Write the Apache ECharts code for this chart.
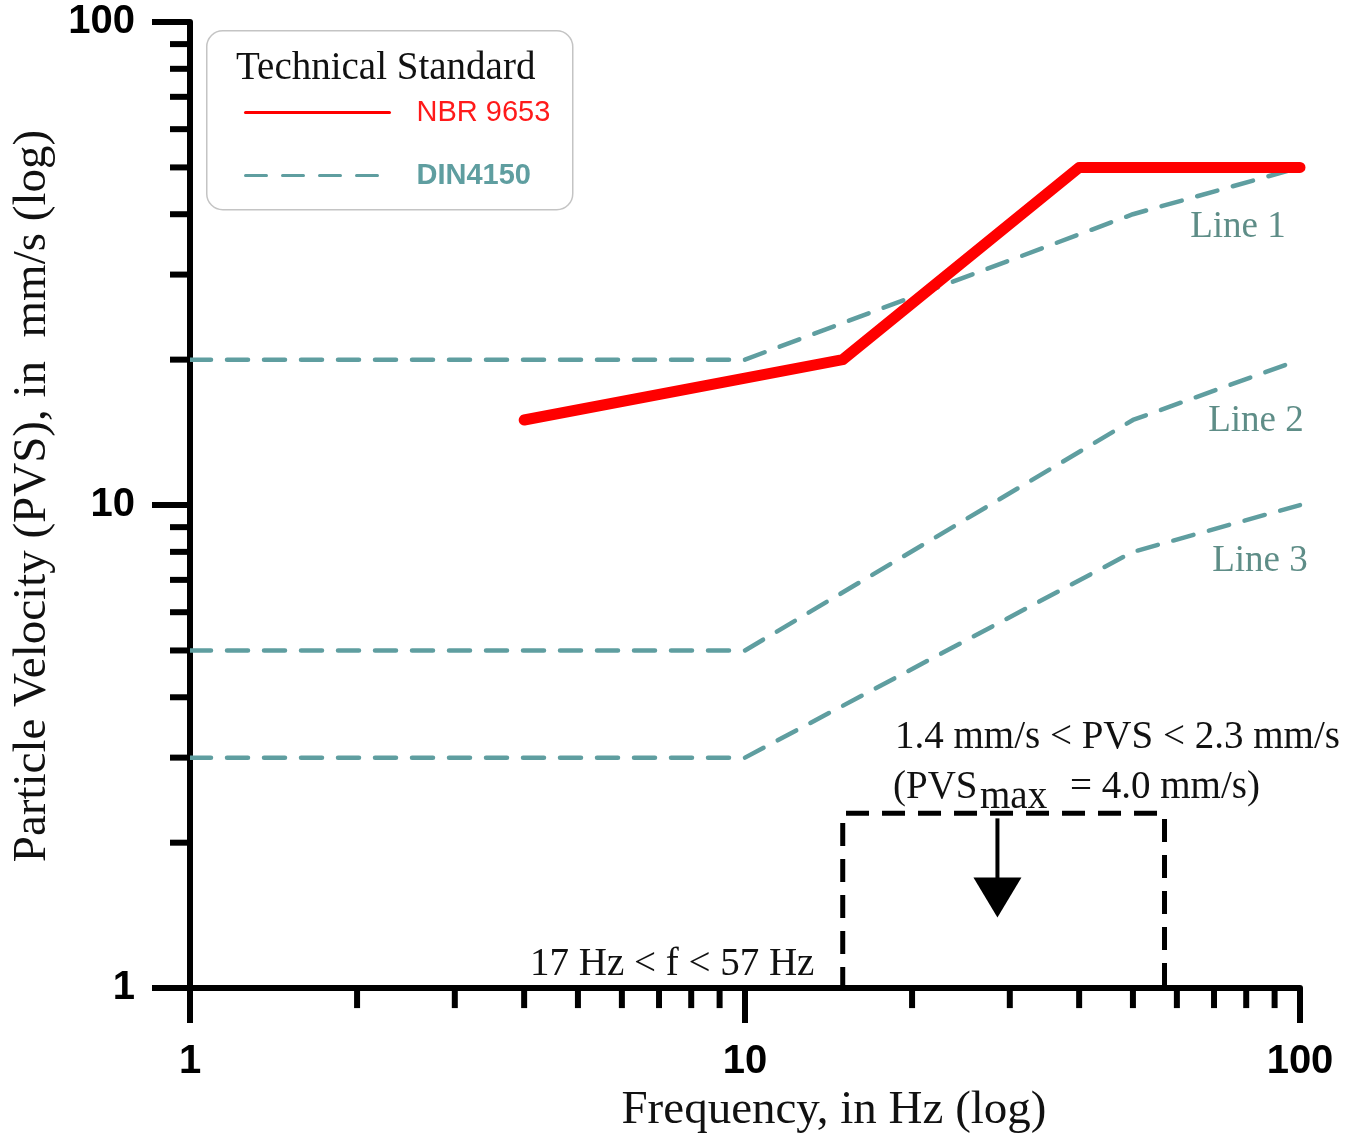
<!DOCTYPE html>
<html>
<head>
<meta charset="utf-8">
<script src="https://cdn.jsdelivr.net/npm/echarts@6/dist/echarts.min.js"></script>
<style>html,body{margin:0;padding:0;background:#fff;}#c{width:1355px;height:1139px;}</style>
</head>
<body>
<div id="c"></div>
<script>
// ---- data ----
const nbrFreq = [4, 15, 40, 100];
const nbrPvs = [15, 20, 50, 50];
const dinFreq = [1, 10, 50, 100];
const dinLine1 = [20, 20, 40, 50];
const dinLine2 = [5, 5, 15, 20];
const dinLine3 = [3, 3, 8, 10];
const xTickLabels = ['1', '10', '100'];
const yTickLabels = ['1', '10', '100'];
const xMinorTicks = [2, 3, 4, 5, 6, 7, 8, 9, 20, 30, 40, 50, 60, 70, 80, 90];
const yMinorTicks = [2, 3, 4, 5, 6, 7, 8, 9, 20, 30, 40, 50, 60, 70, 80, 90];
const boxFreq = [15, 57];
const boxPvs = [1, 2.3];
const arrowFreq = 28.5;
const arrowPvs = [2.3, 1.4];

const TEAL = '#5f9ea0';
const TEAL_TXT = '#5e8d87';
const SERIF = '"Liberation Serif", "Times New Roman", serif';
const SANS = '"Liberation Sans", Arial, sans-serif';

function pairs(xs, ys) { return xs.map((x, i) => [x, ys[i]]); }

const dinLines = [dinLine1, dinLine2, dinLine3];
const lineLabelOffsets = [[-62, 60], [-44, 62], [-40, 56]];

const dinSeries = dinLines.map((ys, k) => ({
  type: 'line',
  name: 'DIN4150',
  data: pairs(dinFreq, ys),
  symbol: 'none',
  lineStyle: { color: TEAL, width: 4.5, type: [21, 16], cap: 'round' },
  itemStyle: { color: TEAL },
  z: 3,
  markPoint: {
    symbol: 'circle', symbolSize: 0,
    data: [{ coord: [dinFreq[dinFreq.length - 1], ys[ys.length - 1]] }],
    label: {
      show: true, formatter: 'Line ' + (k + 1), offset: lineLabelOffsets[k],
      color: TEAL_TXT, fontFamily: SERIF, fontSize: 37
    }
  }
}));

const chart = echarts.init(document.getElementById('c'));
chart.setOption({
  animation: false,
  backgroundColor: '#fff',
  grid: { left: 190, right: 55, top: 22, bottom: 136, containLabel: false },
  xAxis: {
    type: 'log', logBase: 10, min: 1, max: 100,
    name: 'Frequency, in Hz (log)', nameLocation: 'middle', nameGap: 85,
    nameTextStyle: { fontFamily: SERIF, fontSize: 47, color: '#111', padding: [0, 0, 0, 178] },
    axisLine: { lineStyle: { color: '#000', width: 6 } },
    axisTick: { length: 35, lineStyle: { color: '#000', width: 6 } },
    axisLabel: {
      margin: 54, fontFamily: SANS, fontWeight: 'bold', fontSize: 40, color: '#000',
      formatter: v => xTickLabels[Math.round(Math.log10(v))]
    },
    splitLine: { show: false }, minorTick: { show: false }
  },
  yAxis: {
    type: 'log', logBase: 10, min: 1, max: 100,
    name: 'Particle Velocity (PVS), in  mm/s (log)', nameLocation: 'middle', nameGap: 134,
    nameTextStyle: { fontFamily: SERIF, fontSize: 47, color: '#111', padding: [0, 0, 0, 18] },
    axisLine: { lineStyle: { color: '#000', width: 6 } },
    axisTick: { length: 38, lineStyle: { color: '#000', width: 6 } },
    axisLabel: {
      margin: 55, fontFamily: SANS, fontWeight: 'bold', fontSize: 40, color: '#000',
      formatter: v => yTickLabels[Math.round(Math.log10(v))]
    },
    splitLine: { show: false }, minorTick: { show: false }
  },
  legend: {
    orient: 'vertical', left: 244, top: 98, padding: 0, itemWidth: 144, itemHeight: 24, itemGap: 34,
    lineStyle: { width: 3 },
    textStyle: { fontFamily: SANS, fontSize: 29, padding: [0, 0, 0, 22] },
    data: [
      { name: 'NBR 9653', textStyle: { color: '#ff1a1a' }, itemStyle: { opacity: 0 } },
      { name: 'DIN4150', textStyle: { color: TEAL, fontWeight: 'bold' }, itemStyle: { opacity: 0 } }
    ],
    selectedMode: false
  },
  graphic: [
    { type: 'rect', left: 206, top: 30, z: -1, shape: { width: 366, height: 179, r: 16 },
      style: { fill: '#fff', stroke: '#c4c4c4', lineWidth: 1.5 } },
    { type: 'text', left: 236, top: 49, style: { text: 'Technical Standard', font: '39px ' + SERIF, fill: '#111' } },
    { type: 'text', left: 895, top: 718, style: { text: '1.4 mm/s < PVS < 2.3 mm/s', font: '39px ' + SERIF, fill: '#111' } },
    { type: 'text', left: 893, top: 768, style: { text: '(PVS', font: '39px ' + SERIF, fill: '#111' } },
    { type: 'text', left: 980, top: 778, style: { text: 'max', font: '39px ' + SERIF, fill: '#111' } },
    { type: 'text', left: 1070, top: 768, style: { text: '= 4.0 mm/s)', font: '39px ' + SERIF, fill: '#111' } },
    { type: 'text', left: 530, top: 945, style: { text: '17 Hz < f < 57 Hz', font: '39px ' + SERIF, fill: '#111' } }
  ],
  series: [
    {
      type: 'line', name: 'NBR 9653', data: pairs(nbrFreq, nbrPvs), symbol: 'none',
      lineStyle: { color: '#ff0000', width: 11, cap: 'round', join: 'round' },
      itemStyle: { color: '#ff0000' }, z: 4
    },
    ...dinSeries,
    {
      type: 'custom', name: 'yMinor', silent: true, z: 5,
      data: yMinorTicks.map(v => [1, v]),
      renderItem: (params, api) => {
        const p = api.coord([api.value(0), api.value(1)]);
        return { type: 'line', shape: { x1: p[0] - 20, y1: p[1], x2: p[0], y2: p[1] },
          style: { stroke: '#000', lineWidth: 6 } };
      }
    },
    {
      type: 'custom', name: 'xMinor', silent: true, z: 5,
      data: xMinorTicks.map(v => [v, 1]),
      renderItem: (params, api) => {
        const p = api.coord([api.value(0), api.value(1)]);
        return { type: 'line', shape: { x1: p[0], y1: p[1], x2: p[0], y2: p[1] + 20 },
          style: { stroke: '#000', lineWidth: 6 } };
      }
    },
    {
      type: 'custom', name: 'arrow', silent: true, z: 5,
      data: [[arrowFreq, arrowPvs[0], arrowPvs[1]]],
      renderItem: (params, api) => {
        const top = api.coord([api.value(0), api.value(1)]);
        const tip = api.coord([api.value(0), api.value(2)]);
        return { type: 'group', children: [
          { type: 'line', shape: { x1: top[0], y1: top[1] + 5, x2: tip[0], y2: tip[1] - 38 },
            style: { stroke: '#000', lineWidth: 4 } },
          { type: 'polygon', shape: { points: [[tip[0] - 24, tip[1] - 40], [tip[0] + 24, tip[1] - 40], [tip[0], tip[1]]] },
            style: { fill: '#000' } }
        ] };
      },
      markArea: {
        silent: true,
        itemStyle: { color: 'rgba(0,0,0,0)', borderColor: '#000', borderWidth: 5, borderType: [23, 13] },
        data: [[{ coord: [boxFreq[0], boxPvs[0]] }, { coord: [boxFreq[1], boxPvs[1]] }]]
      }
    }
  ]
});
</script>
</body>
</html>
